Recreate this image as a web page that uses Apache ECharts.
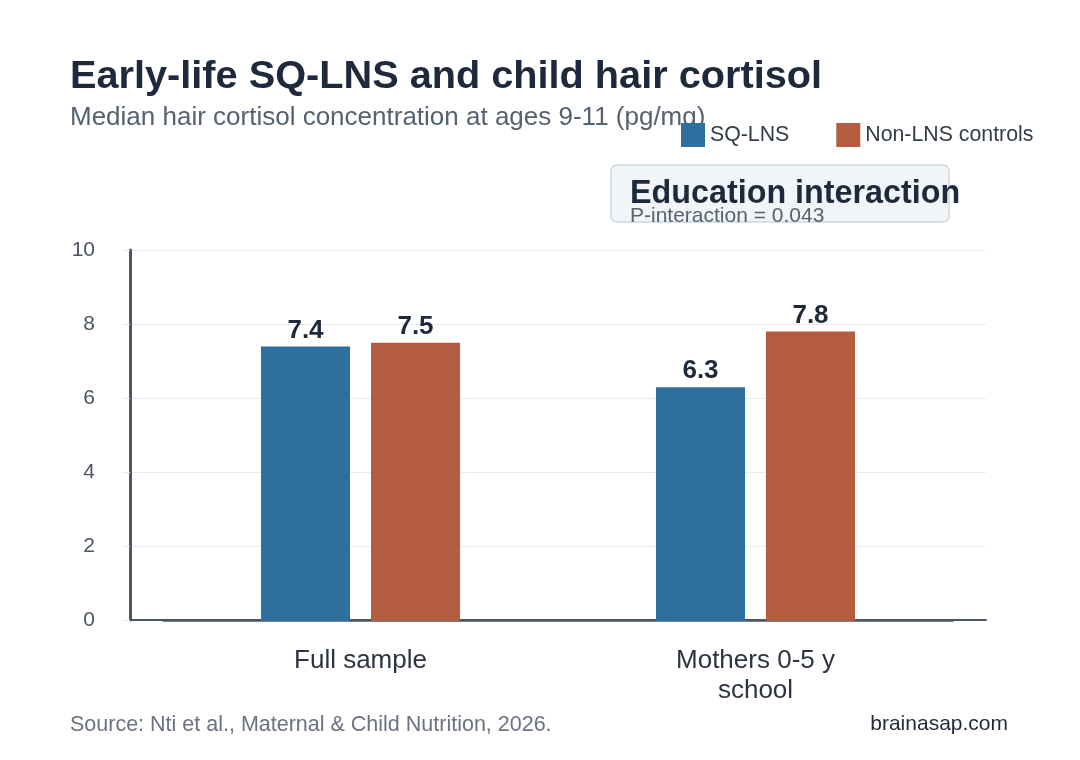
<!DOCTYPE html>
<html><head><meta charset="utf-8">
<script src="https://cdn.jsdelivr.net/npm/echarts@6/dist/echarts.min.js"></script>
<style>html,body{margin:0;padding:0;background:#fff}#c{width:1080px;height:760px}</style>
</head><body><div id="c"></div>
<script>
const categories = ['Full sample', 'Mothers 0-5 y\nschool'];
const seriesNames = ['SQ-LNS', 'Non-LNS controls'];
const sqLns = [7.4, 6.3];
const nonLns = [7.5, 7.8];
const yTicks = [0, 2, 4, 6, 8, 10];

const FONT = '"Liberation Sans", Arial, sans-serif';
const chart = echarts.init(document.getElementById('c'), null, {renderer: 'canvas'});
const blue = '#2e6f9e', rust = '#b35c40';
chart.setOption({
  animation: false,
  backgroundColor: '#ffffff',
  textStyle: {fontFamily: FONT},
  legend: {
    left: 676, top: 118, itemWidth: 24, itemHeight: 24, itemGap: 47,
    icon: 'rect',
    textStyle: {fontSize: 21.3, color: '#333d4a', fontFamily: FONT},
    data: seriesNames
  },
  grid: [
    {left: 130, right: 94, top: 250, bottom: 140},
    {left: 163, right: 127, top: 250, bottom: 139}
  ],
  xAxis: [
    {type: 'category', gridIndex: 0, data: [''], axisLine: {show: true, lineStyle: {color: '#4b5563', width: 2}}, axisTick: {show: false}, axisLabel: {show: false}},
    {type: 'category', gridIndex: 1, data: categories,
     axisLine: {show: true, lineStyle: {color: '#4b5563', width: 1.5}}, axisTick: {show: false},
     axisLabel: {fontSize: 26, color: '#2d3540', margin: 25, lineHeight: 30, fontFamily: FONT}}
  ],
  yAxis: [
    {type: 'value', gridIndex: 0, min: yTicks[0], max: yTicks[yTicks.length - 1], interval: 2,
     axisLine: {show: true, lineStyle: {color: '#4b5563', width: 3}},
     axisTick: {show: true, length: 8, lineStyle: {color: '#e5e7eb'}},
     splitLine: {show: true, lineStyle: {color: '#e8ecf0', width: 1}},
     axisLabel: {fontSize: 21, color: '#4b5563', margin: 35, fontFamily: FONT}},
    {type: 'value', gridIndex: 1, min: 0, max: 10, interval: 2, show: false}
  ],
  series: [
    {name: seriesNames[0], type: 'bar', xAxisIndex: 1, yAxisIndex: 1, data: sqLns, barWidth: 89, barGap: '23.6%',
     itemStyle: {color: blue},
     label: {show: true, position: 'top', distance: 3, fontSize: 26, fontWeight: 'bold', color: '#1e293b', fontFamily: FONT, formatter: p => p.value.toFixed(1)}},
    {name: seriesNames[1], type: 'bar', xAxisIndex: 1, yAxisIndex: 1, data: nonLns, barWidth: 89,
     itemStyle: {color: rust},
     label: {show: true, position: 'top', distance: 3, fontSize: 26, fontWeight: 'bold', color: '#1e293b', fontFamily: FONT, formatter: p => p.value.toFixed(1)}}
  ],
  graphic: [
    {type: 'text', left: 70, top: 57, style: {text: 'Early-life SQ-LNS and child hair cortisol', font: 'bold 39.7px ' + FONT, fill: '#1e2a3b'}},
    {type: 'text', left: 70, top: 105, style: {text: 'Median hair cortisol concentration at ages 9-11 (pg/mg)', font: '26px ' + FONT, fill: '#556270'}},
    {type: 'rect', shape: {x: 611, y: 165, width: 338, height: 57, r: 6}, style: {fill: '#f1f5f8', stroke: '#ccd8e0', lineWidth: 1.5}, z: 1},
    {type: 'text', x: 630, y: 178, style: {text: 'Education interaction', font: 'bold 32.3px ' + FONT, fill: '#1e2a3b'}, z: 2},
    {type: 'text', x: 630, y: 206, style: {text: 'P-interaction = 0.043', font: '21px ' + FONT, fill: '#556270'}, z: 2},
    {type: 'text', left: 70, top: 714, style: {text: 'Source: Nti et al., Maternal & Child Nutrition, 2026.', font: '21.5px ' + FONT, fill: '#6b7280'}},
    {type: 'text', right: 72, top: 714, style: {text: 'brainasap.com', font: '21px ' + FONT, fill: '#1f2937'}}
  ]
});
</script></body></html>
